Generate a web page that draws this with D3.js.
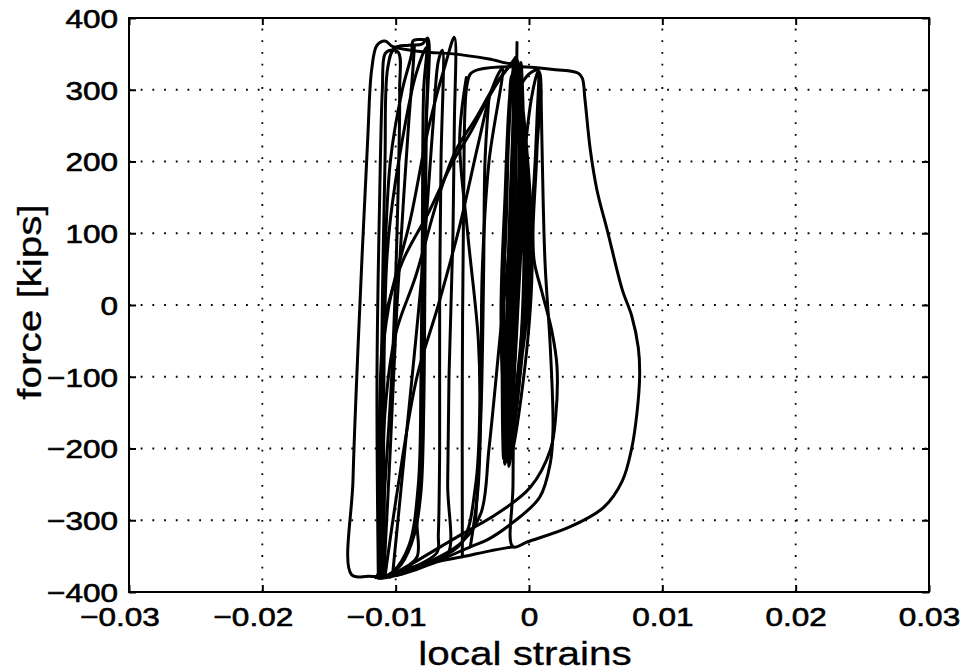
<!DOCTYPE html>
<html>
<head>
<meta charset="utf-8">
<script src="https://cdn.jsdelivr.net/npm/d3@7/dist/d3.min.js"></script>
<style>
  html, body { margin: 0; padding: 0; background: #fff; }
  svg { display: block; }
  text { font-family: "Liberation Sans", Arial, Helvetica, sans-serif; fill: #000; }
</style>
</head>
<body>
<svg id="chart" width="965" height="671"></svg>
<script>
// Axis ticks
const strainTicks = [-0.03, -0.02, -0.01, 0, 0.01, 0.02, 0.03];
const forceTicks = [-400, -300, -200, -100, 0, 100, 200, 300, 400];

// Hysteresis record: local strain vs. force [kips], one array per loading branch
const elasticCycles = [
  [-0.0017,-218],[-0.0014,-60],[-0.0011,120],[-0.0009,330],[-0.0007,150],[-0.0010,-40],[-0.0015,-205],
  [-0.0012,-30],[-0.0008,160],[-0.0006,338],[-0.0003,140],[-0.0005,-60],[-0.0018,-222],
  [-0.0016,-70],[-0.0013,110],[-0.0010,345],[-0.0002,180],[0.0000,20],[-0.0009,-120],[-0.0016,-200],
  [-0.0019,0],[-0.0016,200],[-0.0012,335],[-0.0012,150],[-0.0019,-215],
  [-0.0020,-40],[-0.0017,120],[-0.0013,320],[-0.0004,100],[-0.0007,-80],[-0.0015,-225],
  [-0.0011,40],[-0.0007,250],[-0.0011,342],[-0.0001,60],[-0.0010,-150],[-0.0016,-212],
  [-0.0021,-20],[-0.0018,150],[-0.0014,300],[-0.0010,338],[0.0001,150],[0.0002,30],[-0.0006,-130],
  [-0.0014,-215],[-0.0009,-30],[-0.0004,200],[-0.0008,330]
];
const elasticCycles2 = [
  [-0.0016,-210],[-0.0015,-100],[-0.0013,50],[-0.0011,200],[-0.0009,320],[-0.0006,220],[-0.0008,60],
  [-0.0011,-90],[-0.0014,-190],[-0.0012,-60],[-0.0009,60],[-0.0005,230],[-0.0007,330],[-0.0002,110],
  [-0.0004,-20],[-0.0012,-170],[-0.0017,-120],[-0.0016,30],[-0.0012,250],[-0.0010,330],[-0.0007,80],
  [-0.0012,-100],[-0.0015,-215]
];
const smallLoop = [
  [-0.0016,-200],[-0.0006,150],[0.0002,290],[0.0007,327],[0.0006,260],[0.0004,180],[0.0000,80],
  [-0.0006,-50],[-0.0014,-190]
];
const loopB = [
  [-0.0008,300],[0.0000,322],[0.0007,327],[0.0006,216],[0.0003,100],[0.0004,60],[0.0010,16],
  [0.0017,-35],[0.0021,-86],[0.0020,-156],[0.0016,-202],[0.0001,-254],[-0.0024,-291],
  [-0.0049,-318],[-0.0087,-360],[-0.0099,-374],[-0.0104,-379]
];
const loopB2 = [
  [0.0009,300],[0.0010,200],[0.0012,60],[0.0016,-60],[0.0018,-174],[0.0016,-220],[0.0008,-268],
  [-0.0012,-303],[-0.0031,-327],[-0.0044,-337],[-0.0070,-358],[-0.0100,-377]
];
const loopOuter = [
  [-0.0050,-351],[-0.0050,-100],[-0.0049,150],[-0.0047,300],[-0.0044,322],[-0.0038,328],[-0.0007,332],
  [0.0020,328],[0.0037,323],[0.0040,316],[0.0042,286],[0.0046,216],[0.0051,160],[0.0059,102],
  [0.0070,21],[0.0077,-15],[0.0082,-60],[0.0083,-98],[0.0081,-150],[0.0077,-200],[0.0070,-245],
  [0.0056,-282],[0.0031,-309],[-0.0001,-330],[-0.0012,-337],[-0.0012,-250],[-0.0011,0],
  [-0.0010,200],[-0.0009,366]
];
const bottomArc = [
  [-0.0012,-337],[-0.0030,-343],[-0.0050,-351],[-0.0070,-358],[-0.0087,-365],[-0.0100,-374],
  [-0.0108,-380]
];
const cycleLeft = [
  [-0.0104,-379],[-0.0120,-378],[-0.0133,-376],[-0.0132,-244],[-0.0128,-49],[-0.0121,230],
  [-0.0118,328],[-0.0114,362],[-0.0108,368],[-0.0102,360],[-0.0080,353],[-0.0057,350],
  [-0.0030,343],[-0.0012,337],[-0.0010,345]
];
const cycleD = [
  [-0.0110,-380],[-0.0111,-200],[-0.0110,0],[-0.0108,200],[-0.0106,330],[-0.0101,358],[-0.0090,362],
  [-0.0080,364],[-0.0076,372],[-0.0077,250],[-0.0078,50],[-0.0079,-150],[-0.0081,-260],
  [-0.0086,-320],[-0.0096,-362],[-0.0108,-379]
];
const cycleE = [
  [-0.0108,-379],[-0.0109,-150],[-0.0107,50],[-0.0104,119],[-0.0095,230],[-0.0085,320],
  [-0.0077,359],[-0.0079,300],[-0.0080,100],[-0.0081,-100],[-0.0083,-250],[-0.0090,-335],
  [-0.0102,-372],[-0.0110,-380]
];
const cycleF = [
  [-0.0110,-380],[-0.0111,-100],[-0.0105,0],[-0.0089,119],[-0.0075,250],[-0.0062,340],[-0.0056,373],
  [-0.0056,250],[-0.0057,100],[-0.0060,-100],[-0.0061,-250],[-0.0061,-348],[-0.0075,-362],
  [-0.0095,-375],[-0.0111,-381]
];
const cycleG = [
  [-0.0112,-381],[-0.0112,-150],[-0.0108,-20],[-0.0095,60],[-0.0075,130],[-0.0057,200],
  [-0.0044,240],[-0.0030,290],[-0.0018,325],[-0.0009,341],[-0.0010,250],[-0.0014,100],
  [-0.0022,-50],[-0.0030,-200],[-0.0036,-290],[-0.0050,-330],[-0.0080,-362],[-0.0111,-380]
];
const cycleG2 = [
  [-0.0110,-380],[-0.0108,-150],[-0.0100,-40],[-0.0085,40],[-0.0068,150],[-0.0055,215],
  [-0.0040,260],[-0.0026,305],[-0.0014,335],[-0.0010,345]
];
const cycleI = [
  [-0.0110,-380],[-0.0109,0],[-0.0104,200],[-0.0095,300],[-0.0088,350],[-0.0087,368],[-0.0082,370],
  [-0.0077,369],[-0.0076,360],[-0.0078,200],[-0.0079,0],[-0.0080,-200],[-0.0084,-300],
  [-0.0084,-351],[-0.0095,-368],[-0.0110,-380]
];
const cycleJ = [
  [-0.0047,317],[-0.0052,230],[-0.0046,100],[-0.0038,-49],[-0.0037,-150],[-0.0040,-250],
  [-0.0050,-330],[-0.0070,-355],[-0.0100,-376]
];
const cycleK = [
  [-0.0108,-378],[-0.0098,-250],[-0.0084,-100],[-0.0068,0],[-0.0052,110],[-0.0038,225],
  [-0.0028,300],[-0.0020,330],[-0.0030,200],[-0.0035,50],[-0.0036,-100],[-0.0038,-250],
  [-0.0044,-337]
];
const cycleL = [
  [-0.0113,-381],[-0.0114,-100],[-0.0112,150],[-0.0110,300],[-0.0108,350],[-0.0104,355],
  [-0.0098,352],[-0.0097,300],[-0.0099,100],[-0.0103,-100],[-0.0108,-250],[-0.0112,-370],
  [-0.0115,-380]
];
const cycleM = [
  [-0.0102,-370],[-0.0093,-200],[-0.0080,50],[-0.0072,250],[-0.0068,340],[-0.0065,355],
  [-0.0066,200],[-0.0067,0],[-0.0067,-200],[-0.0068,-320],[-0.0069,-345],[-0.0090,-368],
  [-0.0110,-380]
];
const cycleN = [
  [-0.0109,-380],[-0.0104,-200],[-0.0099,0],[-0.0094,150],[-0.0090,260],[-0.0087,330],
  [-0.0086,360]
];
const cycleP = [
  [-0.0040,-300],[-0.0036,-150],[-0.0034,50],[-0.0033,200],[-0.0030,290]
];

const branches = [elasticCycles, elasticCycles2, smallLoop, loopB, loopB2, loopOuter, bottomArc,
                  cycleLeft, cycleD, cycleE, cycleF, cycleG, cycleG2, cycleI, cycleJ, cycleK,
                  cycleL, cycleM, cycleN, cycleP];

// Layout
const svg = d3.select("#chart");
const plotL = 129, plotT = 18, plotR = 929, plotB = 592;
const x = d3.scaleLinear().domain([-0.03, 0.03]).range([plotL, plotR]);
const y = d3.scaleLinear().domain([-400, 400]).range([plotB, plotT]);
const fontSize = 26.5, stretch = 1.19;

// Dotted grid
const grid = svg.append("g").attr("stroke", "#000").attr("stroke-width", 1.8)
  .attr("stroke-dasharray", "1.8 9.9").attr("stroke-linecap", "butt");
grid.selectAll(".gx").data(strainTicks.slice(1, -1)).join("line")
  .attr("x1", d => x(d)).attr("x2", d => x(d)).attr("y1", plotB).attr("y2", plotT);
grid.selectAll(".gy").data(forceTicks.slice(1, -1)).join("line")
  .attr("y1", d => y(d)).attr("y2", d => y(d)).attr("x1", plotL).attr("x2", plotR);

// Curves
const line = d3.line().x(d => x(d[0])).y(d => y(d[1])).curve(d3.curveCatmullRom.alpha(0.5));
svg.append("g").selectAll("path").data(branches).join("path")
  .attr("d", line).attr("fill", "none").attr("stroke", "#000")
  .attr("stroke-width", 3).attr("stroke-linejoin", "round").attr("stroke-linecap", "round");

// Axes with inward ticks
const fmt = d => (d < 0 ? "\u2212" : "") + (Math.abs(d) === 0 ? "0" : String(Math.abs(d)));
const axB = svg.append("g").attr("transform", `translate(0,${plotB})`)
  .call(d3.axisBottom(x).tickValues(strainTicks).tickSizeInner(-7).tickSizeOuter(0).tickFormat(fmt));
const axL = svg.append("g").attr("transform", `translate(${plotL},0)`)
  .call(d3.axisLeft(y).tickValues(forceTicks).tickSizeInner(-7).tickSizeOuter(0).tickFormat(fmt));
svg.append("g").attr("transform", `translate(0,${plotT})`)
  .call(d3.axisTop(x).tickValues(strainTicks).tickSizeInner(-7).tickSizeOuter(0).tickFormat(""));
svg.append("g").attr("transform", `translate(${plotR},0)`)
  .call(d3.axisRight(y).tickValues(forceTicks).tickSizeInner(-7).tickSizeOuter(0).tickFormat(""));

svg.selectAll(".domain").remove();
svg.selectAll(".tick line").attr("stroke", "#000").attr("stroke-width", 2);

const textStroke = 0.6;
axB.selectAll("text")
  .attr("font-size", fontSize).attr("font-family", null).attr("fill", "#000")
  .attr("stroke", "#000").attr("stroke-width", textStroke)
  .attr("dy", "0.71em").attr("y", 15)
  .attr("x", d => d < 0 ? -9.5 / stretch : 0)
  .attr("transform", `scale(${stretch},1)`);
axL.selectAll("text")
  .attr("font-size", fontSize).attr("font-family", null).attr("fill", "#000")
  .attr("stroke", "#000").attr("stroke-width", textStroke)
  .attr("x", -11 / stretch).attr("dy", "0.35em")
  .attr("transform", `scale(${stretch},1)`);

// Frame
svg.append("rect").attr("x", plotL).attr("y", plotT).attr("width", plotR - plotL).attr("height", plotB - plotT)
  .attr("fill", "none").attr("stroke", "#000").attr("stroke-width", 2);

// Axis titles
svg.append("text").attr("transform", `translate(525,665) scale(${stretch},1)`)
  .attr("text-anchor", "middle").attr("font-size", 34)
  .attr("stroke", "#000").attr("stroke-width", 0.3).text("local strains");
svg.append("text").attr("transform", `translate(41,302) rotate(-90) scale(${stretch},1)`)
  .attr("text-anchor", "middle").attr("font-size", 34)
  .attr("stroke", "#000").attr("stroke-width", 0.3).text("force [kips]");
</script>
</body>
</html>
